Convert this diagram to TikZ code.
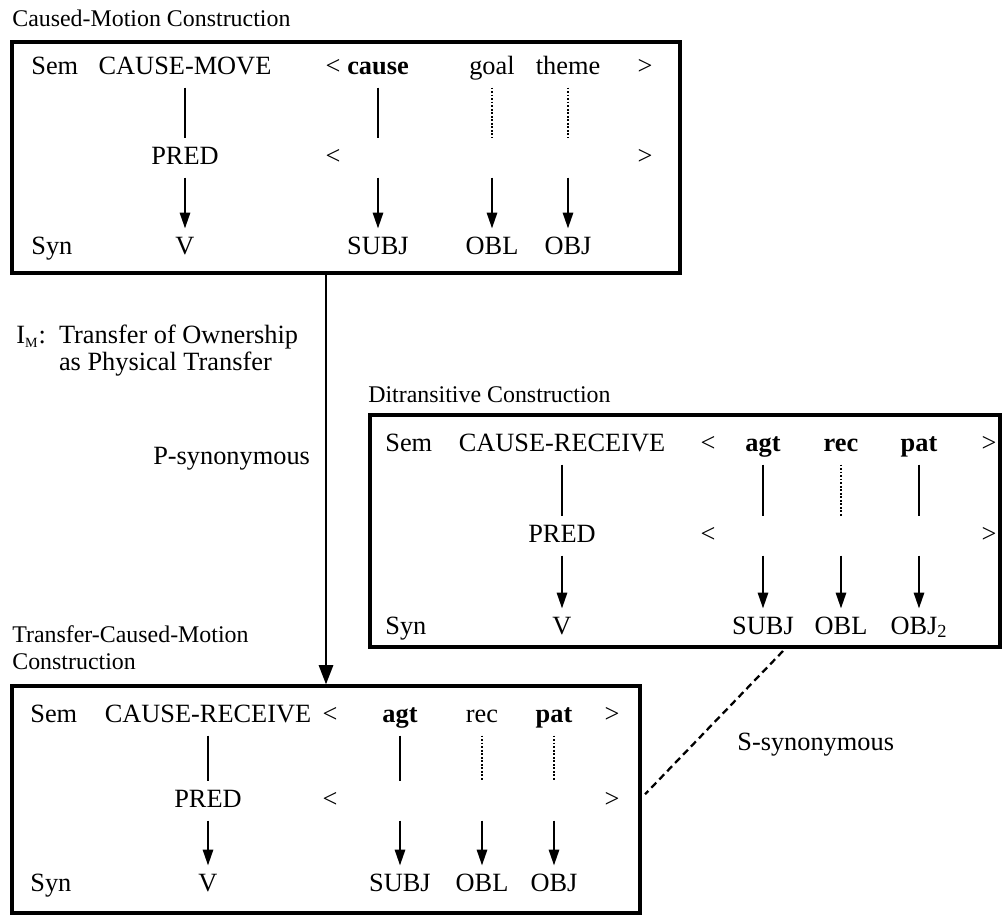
\documentclass[tikz,border=0pt]{standalone}
\usepackage{fontspec}
\setmainfont{Liberation Serif}
\usetikzlibrary{arrows.meta}

\begin{document}
\begin{tikzpicture}[x=0.02cm, y=-0.02cm,
        every node/.style={font=\fontsize{15}{16}\selectfont},
        item/.style={inner xsep=0pt, inner ysep=4.5pt, text height=10pt, text depth=3pt},
        tag/.style={item, anchor=west},
        title/.style={anchor=west, inner sep=0pt, align=left,
            font=\fontsize{13.6}{15.5}\selectfont},
        box/.style={draw, line width=1.8pt, inner sep=0pt},
        link/.style={line width=0.8pt},
        dots/.style={line width=0.6pt, dash pattern=on 1pt off 1pt},
        arr/.style={-{Triangle[length=9pt, width=6pt]}, line width=0.8pt},
        mainarr/.style={-{Triangle[length=11pt, width=8pt]}, line width=1.6pt},
        synline/.style={line width=1.3pt, dash pattern=on 4pt off 2.5pt}
    ]
    \useasboundingbox (0,0) rectangle (1005,917);

    % Caused-Motion Construction
    \node[title] (cmtitle) at (12,18) {Caused-Motion Construction};
    \node[box, minimum width=13.36cm, minimum height=4.62cm] (cmbox) at (346,157.5) {};

    \node[tag] (cmsem) at (31,68) {Sem};
    \node[item] (cmhead) at (185,68) {CAUSE-MOVE};
    \node[item] (cmlt) at (333,68) {<};
    \node[item] (cmcause) at (378,68) {\textbf{cause}};
    \node[item] (cmgoal) at (492,68) {goal};
    \node[item] (cmtheme) at (568,68) {theme};
    \node[item] (cmgt) at (645,68) {>};

    \node[item] (cmpred) at (185,158) {PRED};
    \node[item] (cmlt2) at (333,158) {<};
    \node[item] (cmm1) at (378,158) {};
    \node[item] (cmm2) at (492,158) {};
    \node[item] (cmm3) at (568,158) {};
    \node[item] (cmgt2) at (645,158) {>};

    \node[tag] (cmsyn) at (31,248) {Syn};
    \node[item] (cmv) at (185,248) {V};
    \node[item] (cmsubj) at (378,248) {SUBJ};
    \node[item] (cmobl) at (492,248) {OBL};
    \node[item] (cmobj) at (568,248) {OBJ};

    \draw[link] (cmhead) -- (cmpred);
    \draw[link] (cmcause) -- (cmm1);
    \draw[dots] (cmgoal) -- (cmm2);
    \draw[dots] (cmtheme) -- (cmm3);
    \draw[arr] (cmpred) -- (cmv);
    \draw[arr] (cmm1) -- (cmsubj);
    \draw[arr] (cmm2) -- (cmobl);
    \draw[arr] (cmm3) -- (cmobj);

    % Ditransitive Construction
    \node[title] (dttitle) at (368,395) {Ditransitive Construction};
    \node[box, minimum width=12.6cm, minimum height=4.64cm] (dtbox) at (685,531) {};

    \node[tag] (dtsem) at (385,445) {Sem};
    \node[item] (dthead) at (562,445) {CAUSE-RECEIVE};
    \node[item] (dtlt) at (708,445) {<};
    \node[item] (dtagt) at (763,445) {\textbf{agt}};
    \node[item] (dtrec) at (841,445) {\textbf{rec}};
    \node[item] (dtpat) at (919,445) {\textbf{pat}};
    \node[item] (dtgt) at (989,445) {>};

    \node[item] (dtpred) at (562,536) {PRED};
    \node[item] (dtlt2) at (708,536) {<};
    \node[item] (dtm1) at (763,536) {};
    \node[item] (dtm2) at (841,536) {};
    \node[item] (dtm3) at (919,536) {};
    \node[item] (dtgt2) at (989,536) {>};

    \node[tag] (dtsyn) at (385,628) {Syn};
    \node[item] (dtv) at (562,628) {V};
    \node[item] (dtsubj) at (763,628) {SUBJ};
    \node[item] (dtobl) at (841,628) {OBL};
    \node[item] (dtobj) at (919,628) {OBJ\textsubscript{2}};

    \draw[link] (dthead) -- (dtpred);
    \draw[link] (dtagt) -- (dtm1);
    \draw[dots] (dtrec) -- (dtm2);
    \draw[link] (dtpat) -- (dtm3);
    \draw[arr] (dtpred) -- (dtv);
    \draw[arr] (dtm1) -- (dtsubj);
    \draw[arr] (dtm2) -- (dtobl);
    \draw[arr] (dtm3) -- (dtobj);

    % Transfer-Caused-Motion Construction
    \node[title] (tctitle) at (12,648) {Transfer-Caused-Motion\\Construction};
    \node[box, minimum width=12.56cm, minimum height=4.54cm] (tcbox) at (326,799.5) {};

    \node[tag] (tcsem) at (30,716) {Sem};
    \node[item] (tchead) at (208,716) {CAUSE-RECEIVE};
    \node[item] (tclt) at (330,716) {<};
    \node[item] (tcagt) at (400,716) {\textbf{agt}};
    \node[item] (tcrec) at (482,716) {rec};
    \node[item] (tcpat) at (554,716) {\textbf{pat}};
    \node[item] (tcgt) at (612,716) {>};

    \node[item] (tcpred) at (208,801) {PRED};
    \node[item] (tclt2) at (330,801) {<};
    \node[item] (tcm1) at (400,801) {};
    \node[item] (tcm2) at (482,801) {};
    \node[item] (tcm3) at (554,801) {};
    \node[item] (tcgt2) at (612,801) {>};

    \node[tag] (tcsyn) at (30,885) {Syn};
    \node[item] (tcv) at (208,885) {V};
    \node[item] (tcsubj) at (400,885) {SUBJ};
    \node[item] (tcobl) at (482,885) {OBL};
    \node[item] (tcobj) at (554,885) {OBJ};

    \draw[link] (tchead) -- (tcpred);
    \draw[link] (tcagt) -- (tcm1);
    \draw[dots] (tcrec) -- (tcm2);
    \draw[dots] (tcpat) -- (tcm3);
    \draw[arr] (tcpred) -- (tcv);
    \draw[arr] (tcm1) -- (tcsubj);
    \draw[arr] (tcm2) -- (tcobl);
    \draw[arr] (tcm3) -- (tcobj);

    % relations between the constructions
    \draw[mainarr] (cmbox.south -| tcbox.north) -- node[pos=0.45, left=5pt] (psyn) {P-synonymous} (tcbox.north);
    \node[anchor=north west, inner sep=0pt] (imap) at (16,324) {%
        \fontsize{15}{15.5}\selectfont
        \begin{tabular}{@{}l@{\ \ }l@{}}
            I\textsubscript{\fontsize{8}{8}\selectfont M}: & Transfer of Ownership\\
                                                           & as Physical Transfer
        \end{tabular}};

    \coordinate (sstart) at (783,651);
    \draw[synline] (sstart) -- ([xshift=2pt, yshift=3pt]tcbox.east);
    \node[anchor=west, inner sep=0pt] (ssyn) at (737,745) {S-synonymous};
\end{tikzpicture}
\end{document}
